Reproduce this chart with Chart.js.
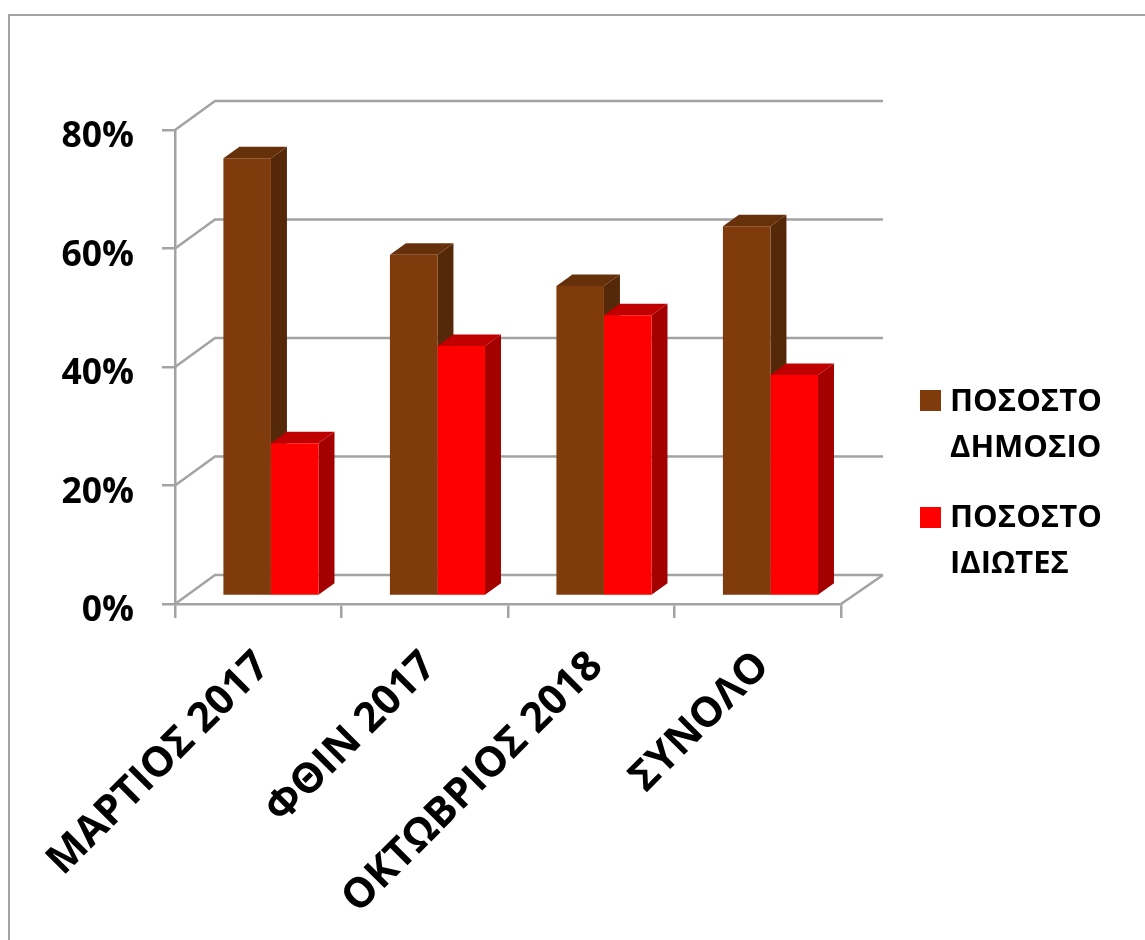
<!DOCTYPE html>
<html>
<head>
<meta charset="utf-8">
<style>
  html, body { margin: 0; padding: 0; background: #fff; }
  canvas { display: block; }
</style>
<script src="https://cdn.jsdelivr.net/npm/chart.js@4"></script>
</head>
<body>
<canvas id="grafima" width="1145" height="940"></canvas>
<script>
const categories = ['ΜΑΡΤΙΟΣ 2017', 'ΦΘΙΝ 2017', 'ΟΚΤΩΒΡΙΟΣ 2018', 'ΣΥΝΟΛΟ'];
const pososto_dimosio = [73.9, 57.6, 52.3, 62.4];
const pososto_idiotes = [25.8, 42.2, 47.4, 37.3];
const label_dimosio = ['ΠΟΣΟΣΤΟ', 'ΔΗΜΟΣΙΟ'];
const label_idiotes = ['ΠΟΣΟΣΤΟ', 'ΙΔΙΩΤΕΣ'];

const GREY = '#a3a3a3';
const FONT = '"Open Sans", sans-serif';

// colours for the 3d faces: front, side, top
const faces = [
    { front: '#7f3b0c', side: '#55280a', top: '#66300b' },
    { front: '#ff0000', side: '#a50000', top: '#c00000' },
];

// the frame behind the chart
const frame = {
    id: 'frame',
    beforeDraw(chart) {
        const c = chart.ctx;
        c.save();
        c.strokeStyle = GREY;
        c.lineWidth = 2;
        c.beginPath();
        c.moveTo(9, 940);
        c.lineTo(9, 15);
        c.lineTo(1145, 15);
        c.stroke();
        c.restore();
    }
};

// back wall and floor of the 3d box, then side and top faces of the bars
const box3d = {
    id: 'box3d',
    beforeDatasetsDraw(chart) {
        const c = chart.ctx;
        const { x, y } = chart.scales;
        const dx = 40, dy = -29;
        c.save();
        c.strokeStyle = GREY;
        c.lineWidth = 2.5;
        y.ticks.forEach(t => {
            const py = y.getPixelForValue(t.value);
            c.beginPath();
            c.moveTo(x.left, py);
            c.lineTo(x.left + dx, py + dy);
            c.lineTo(x.right + dx + 2, py + dy);
            c.stroke();
        });
        c.beginPath();
        c.moveTo(x.right, y.bottom);
        c.lineTo(x.right + dx + 2, y.bottom + dy);
        c.stroke();
        c.restore();

        // bars stand in the middle of the floor
        c.save();
        c.translate(12.7, -8);
        const ddx = 16, ddy = -11.5;
        chart.data.datasets.forEach((ds, i) => {
            chart.getDatasetMeta(i).data.forEach(bar => {
                const p = bar.getProps(['x', 'y', 'base', 'width'], true);
                const l = p.x - p.width / 2, r = p.x + p.width / 2;
                c.fillStyle = faces[i].side;
                c.beginPath();
                c.moveTo(r, p.y);
                c.lineTo(r + ddx, p.y + ddy);
                c.lineTo(r + ddx, p.base + ddy);
                c.lineTo(r, p.base);
                c.closePath();
                c.fill();
                c.fillStyle = faces[i].top;
                c.beginPath();
                c.moveTo(l, p.y);
                c.lineTo(l + ddx, p.y + ddy);
                c.lineTo(r + ddx, p.y + ddy);
                c.lineTo(r, p.y);
                c.closePath();
                c.fill();
            });
        });
    },
    afterDatasetsDraw(chart) {
        chart.ctx.restore();
    }
};

// legend sits on the right with two line labels
const legendBox = {
    id: 'legendBox',
    afterDraw(chart) {
        const c = chart.ctx;
        const rows = [{ top: 390, base: 411 }, { top: 507, base: 527 }];
        c.save();
        c.font = 'bold 31px ' + FONT;
        c.fillStyle = '#000';
        c.textBaseline = 'alphabetic';
        chart.data.datasets.forEach((ds, i) => {
            c.fillStyle = faces[i].front;
            c.fillRect(920, rows[i].top, 21, 21);
            c.fillStyle = '#000';
            ds.label.forEach((line, n) => {
                c.fillText(line, 950, rows[i].base + n * 46);
            });
        });
        c.restore();
    }
};

new Chart(document.getElementById('grafima').getContext('2d'), {
    type: 'bar',
    data: {
        labels: categories,
        datasets: [
            { label: label_dimosio, data: pososto_dimosio, backgroundColor: faces[0].front },
            { label: label_idiotes, data: pososto_idiotes, backgroundColor: faces[1].front },
        ]
    },
    options: {
        responsive: false,
        animation: false,
        devicePixelRatio: 1,
        categoryPercentage: 0.571,
        barPercentage: 1,
        layout: { padding: { top: 130, right: 304, left: 0, bottom: 0 } },
        plugins: { legend: { display: false }, tooltip: { enabled: false } },
        scales: {
            x: {
                afterFit(s) { s.height = 336; },
                grid: { drawOnChartArea: false, color: GREY, lineWidth: 2.5, tickLength: 14 },
                border: { color: GREY, width: 2.5 },
                ticks: {
                    color: '#000',
                    font: { family: FONT, size: 41.5, weight: 'bold' },
                    minRotation: 45,
                    maxRotation: 45,
                    padding: 24,
                    labelOffset: 5,
                    autoSkip: false,
                }
            },
            y: {
                min: 0,
                max: 80,
                afterFit(s) { s.width = 175; },
                grid: { drawOnChartArea: false, color: GREY, lineWidth: 2.5, tickLength: 13 },
                border: { color: GREY, width: 2.5 },
                ticks: {
                    stepSize: 20,
                    color: '#000',
                    padding: 28,
                    labelOffset: 7,
                    font: { family: FONT, size: 35.5, weight: 'bold' },
                    callback: v => v + '%',
                }
            }
        }
    },
    plugins: [frame, box3d, legendBox]
});
</script>
</body>
</html>
